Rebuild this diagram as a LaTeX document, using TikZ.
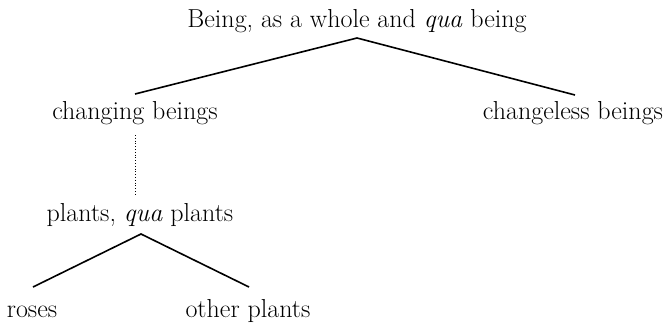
\documentclass[tikz,border=0pt]{standalone}
\usepackage{tikz}
\begin{document}
\begin{tikzpicture}[x=1pt,y=-1pt,
	term/.style={font=\fontsize{26}{30}\selectfont,inner sep=0pt,anchor=base},
	branch/.style={line width=1.6pt},
	link/.style={dotted,line width=0.8pt}]
	\useasboundingbox (0,0) rectangle (666,325);
	
	% Draw nodes
	\node[term] (Being) at (357,27) {Being, as a whole and \textit{qua} being};
	\node[term] (Changing) at (135,119) {changing beings};
	\node[term] (Changeless) at (573,119) {changeless beings};
	\node[term] (Plants) at (140,221) {plants, \textit{qua} plants};
	\node[term] (Roses) at (32,317) {roses};
	\node[term] (Other) at (248,317) {other plants};
	
	% Branch points
	\coordinate (BeingFork) at (357,38);
	\coordinate (ChangingTop) at (135,94);
	\coordinate (ChangelessTop) at (575,95);
	\coordinate (PlantsFork) at (141,234);
	\coordinate (RosesTop) at (33,287);
	\coordinate (OtherTop) at (249,287);
	\coordinate (LinkTop) at (135,135);
	\coordinate (LinkBottom) at (135,194);
	
	% Draw branches
	\draw[branch] (ChangingTop) -- (BeingFork) -- (ChangelessTop);
	\draw[branch] (RosesTop) -- (PlantsFork) -- (OtherTop);
	\draw[link] (LinkTop) -- (LinkBottom);
	
\end{tikzpicture}
\end{document}
